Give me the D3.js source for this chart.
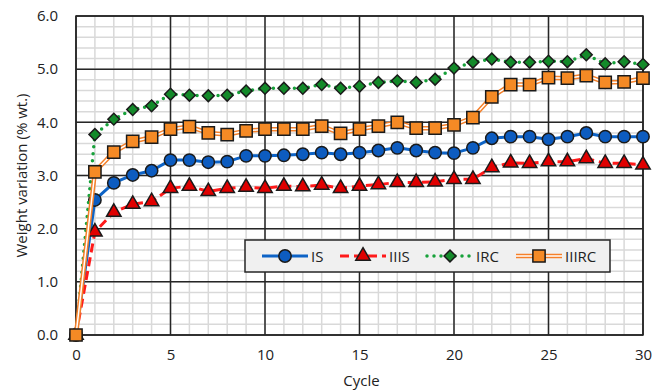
<!DOCTYPE html>
<html lang="en">
<head>
<meta charset="utf-8">
<title>Weight variation</title>
<script src="https://d3js.org/d3.v7.min.js"></script>
<style>
  body { margin: 0; background: #fff; }
  text { font-family: "Open Sans", "Noto Sans", sans-serif; fill: #222; }
</style>
</head>
<body>
<script>
// data
var cycles = d3.range(0, 31);
var IS    = [0, 2.54, 2.86, 3.01, 3.09, 3.29, 3.29, 3.25, 3.26, 3.37, 3.37, 3.38, 3.40, 3.43, 3.40, 3.43, 3.47, 3.52, 3.47, 3.43, 3.42, 3.52, 3.70, 3.73, 3.73, 3.68, 3.73, 3.80, 3.73, 3.73, 3.73];
var IIIS  = [0, 1.94, 2.31, 2.46, 2.51, 2.76, 2.80, 2.70, 2.76, 2.78, 2.76, 2.80, 2.79, 2.82, 2.76, 2.80, 2.83, 2.87, 2.87, 2.88, 2.93, 2.93, 3.15, 3.24, 3.23, 3.26, 3.26, 3.32, 3.23, 3.23, 3.20];
var IRC   = [0, 3.77, 4.06, 4.24, 4.31, 4.53, 4.51, 4.50, 4.51, 4.59, 4.64, 4.64, 4.64, 4.71, 4.64, 4.68, 4.75, 4.78, 4.75, 4.81, 5.02, 5.13, 5.19, 5.13, 5.13, 5.15, 5.14, 5.27, 5.10, 5.14, 5.09];
var IIIRC = [0, 3.07, 3.44, 3.64, 3.72, 3.87, 3.92, 3.80, 3.77, 3.84, 3.87, 3.87, 3.87, 3.93, 3.79, 3.87, 3.93, 4.00, 3.89, 3.89, 3.95, 4.09, 4.48, 4.71, 4.71, 4.84, 4.83, 4.88, 4.75, 4.76, 4.83];
var seriesNames = ["IS", "IIIS", "IRC", "IIIRC"];
var xTicks = [0, 5, 10, 15, 20, 25, 30];
var yTicks = [0, 1, 2, 3, 4, 5, 6];

var width = 654, height = 390;
var margin = {left: 76, right: 11, top: 16, bottom: 55};

var svg = d3.select("body").append("svg")
    .attr("width", width)
    .attr("height", height);

var x = d3.scaleLinear().domain([0, 30]).range([margin.left, width - margin.right]);
var y = d3.scaleLinear().domain([0, 6]).range([height - margin.bottom, margin.top]);

// minor grid
var grid = svg.append("g");
grid.selectAll(".vx").data(d3.range(0, 31)).enter().append("line")
    .attr("x1", d => x(d)).attr("x2", d => x(d))
    .attr("y1", y(0)).attr("y2", y(6))
    .attr("stroke", "#d9d9d9").attr("stroke-width", 1.5);
grid.selectAll(".hy").data(d3.range(0, 31).map(d => d * 0.2)).enter().append("line")
    .attr("x1", x(0)).attr("x2", x(30))
    .attr("y1", d => y(d)).attr("y2", d => y(d))
    .attr("stroke", "#d9d9d9").attr("stroke-width", 1.5);

// major grid
grid.selectAll(".mx").data(xTicks).enter().append("line")
    .attr("x1", d => x(d)).attr("x2", d => x(d))
    .attr("y1", y(0)).attr("y2", y(6))
    .attr("stroke", "#262626").attr("stroke-width", 1.5);
grid.selectAll(".my").data(yTicks).enter().append("line")
    .attr("x1", x(0)).attr("x2", x(30))
    .attr("y1", d => y(d)).attr("y2", d => y(d))
    .attr("stroke", "#262626").attr("stroke-width", 1.5);
svg.append("rect")
    .attr("x", x(0)).attr("y", y(6))
    .attr("width", x(30) - x(0)).attr("height", y(0) - y(6))
    .attr("fill", "none").attr("stroke", "#262626").attr("stroke-width", 1.5);

// axes labels
var xAxis = d3.axisBottom(x).tickValues(xTicks).tickSize(0).tickPadding(14).tickFormat(d3.format("d"));
svg.append("g").attr("transform", "translate(0," + y(0) + ")").call(xAxis)
    .call(g => g.select(".domain").remove())
    .selectAll("text").style("font-size", "15px").attr("fill", "#222");
var yAxis = d3.axisLeft(y).tickValues(yTicks).tickSize(0).tickPadding(18).tickFormat(d3.format(".1f"));
svg.append("g").attr("transform", "translate(" + x(0) + ",0)").call(yAxis)
    .call(g => g.select(".domain").remove())
    .selectAll("text").style("font-size", "15px").attr("fill", "#222");

svg.append("text")
    .attr("x", (x(0) + x(30)) / 2 + 2).attr("y", 386)
    .attr("text-anchor", "middle").style("font-size", "15px")
    .text("Cycle");
svg.append("text")
    .attr("transform", "translate(27," + ((y(0) + y(6)) / 2) + ") rotate(-90)")
    .attr("text-anchor", "middle").style("font-size", "15px")
    .text("Weight variation (% wt.)");

// series styles
var styles = {
  IS:    {data: IS,    color: "#0d63c6", width: 3,   dash: null,  marker: d3.symbolCircle,   size: 120, fill: "#0d5cc0", rot: 0},
  IIIS:  {data: IIIS,  color: "#ff1a1a", width: 3,   dash: "9,5", marker: d3.symbolTriangle, size: 90,  fill: "#e00000", rot: 0},
  IRC:   {data: IRC,   color: "#17a13a", width: 3.5, dash: "0,7", marker: d3.symbolSquare,   size: 70,  fill: "#138a2a", rot: 45},
  IIIRC: {data: IIIRC, color: "#f5802a", width: 4.5, dash: null,  marker: d3.symbolSquare,   size: 150, fill: "#f58a25", rot: 0}
};

var line = d3.line().x((d, i) => x(cycles[i])).y(d => y(d));

function drawLine(g, s, name, pts) {
  var p = g.append("path").attr("d", pts).attr("fill", "none")
      .attr("stroke", s.color).attr("stroke-width", s.width)
      .attr("stroke-linecap", name === "IRC" ? "round" : "butt")
      .attr("stroke-linejoin", "round");
  if (s.dash) p.attr("stroke-dasharray", s.dash);
  if (name === "IIIRC") {
    g.append("path").attr("d", pts).attr("fill", "none")
      .attr("stroke", "#fff").attr("stroke-width", 1.5)
      .attr("stroke-linejoin", "round");
  }
}

seriesNames.forEach(function(name) {
  var s = styles[name];
  var g = svg.append("g");
  drawLine(g, s, name, line(s.data));
  g.selectAll("path.m").data(s.data).enter().append("path")
      .attr("class", "m")
      .attr("transform", (d, i) => "translate(" + x(cycles[i]) + "," + y(d) + ") rotate(" + s.rot + ")")
      .attr("d", d3.symbol().type(s.marker).size(s.size))
      .attr("fill", s.fill).attr("stroke", "#1a1a1a").attr("stroke-width", 1.5);
});

// legend
var lg = svg.append("g");
lg.append("rect").attr("x", 245).attr("y", 240).attr("width", 365).attr("height", 32)
    .attr("fill", "#f0f0f0").attr("stroke", "#262626").attr("stroke-width", 1.5);
var legendX = [262, 340, 427, 516];
seriesNames.forEach(function(name, i) {
  var s = styles[name];
  var lx = legendX[i], ly = 256;
  drawLine(lg, s, name, "M" + lx + "," + ly + "H" + (lx + 46));
  lg.append("path").attr("transform", "translate(" + (lx + 23) + "," + ly + ") rotate(" + s.rot + ")")
      .attr("d", d3.symbol().type(s.marker).size(s.size))
      .attr("fill", s.fill).attr("stroke", "#1a1a1a").attr("stroke-width", 1.5);
  lg.append("text").attr("x", lx + 49).attr("y", ly + 5.5)
      .style("font-size", "15px").text(name);
});
</script>
</body>
</html>
